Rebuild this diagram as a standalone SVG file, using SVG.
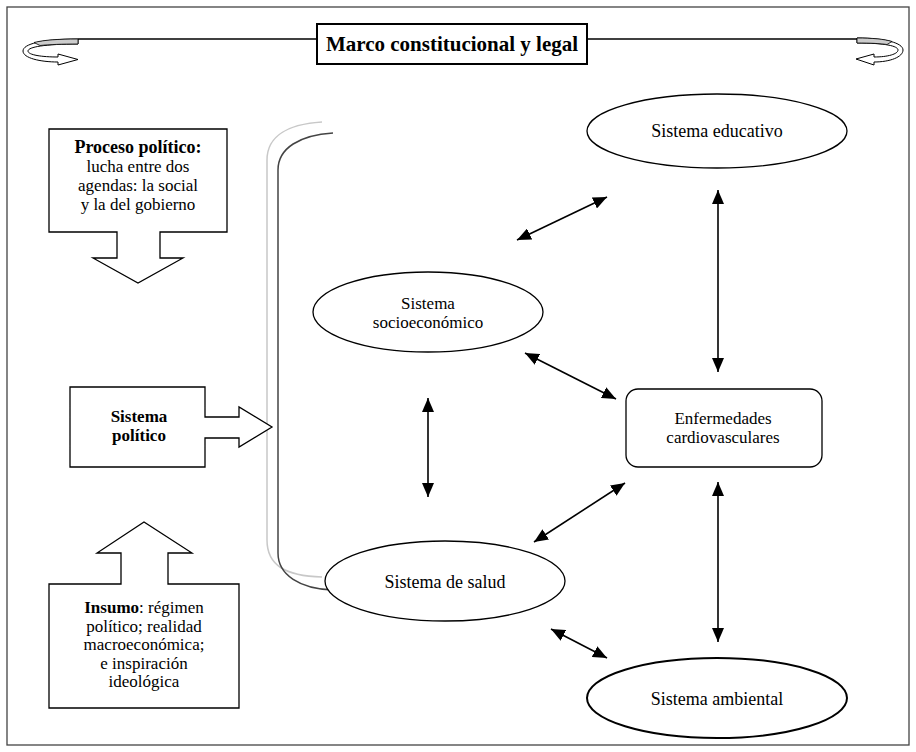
<svg xmlns="http://www.w3.org/2000/svg" width="916" height="752" viewBox="0 0 916 752">
<style>
text{font-family:"Liberation Serif","Times New Roman",serif;font-size:18px;fill:#000;text-anchor:middle}
.b{font-weight:bold}
.sm{font-size:17px}
.shape{fill:#fff;stroke:#000;stroke-width:1.3}
.conn{stroke:#000;stroke-width:1.6;fill:none;marker-start:url(#ah);marker-end:url(#ah)}
</style>
<defs>
<marker id="ah" viewBox="0 0 14 12" refX="14" refY="6" markerWidth="14" markerHeight="12" markerUnits="userSpaceOnUse" orient="auto-start-reverse">
<path d="M0,0 L14,6 L0,12 Z" fill="#000"/>
</marker>
</defs>
<rect x="7" y="7" width="902" height="738" fill="#fff" stroke="#444" stroke-width="1.3"/>

<g id="marco">
<line x1="78" y1="39" x2="317" y2="39" stroke="#000" stroke-width="1.3"/>
<line x1="587" y1="39" x2="857" y2="39" stroke="#000" stroke-width="1.3"/>
<path d="M78,39 C42,39 23,44 23,51 C23,58 40,62 58,62 L58,65 L78,59.5 L58,54 L58,57 C42,57 28,55 28,51 C28,47 45,44 78,44 Z" fill="#fff" stroke="#000" stroke-width="1"/>
<path d="M78,39 C58,39 44,40 34,42.5 L40,45.5 C50,44.5 62,44 78,44 Z" fill="#ccc" stroke="#000" stroke-width="0.8"/>
<path d="M857,38 C885,38 903,43 903,50 C903,57 890,62 874,62 L874,65 L856,59 L874,54 L874,57 C888,57 898,54 898,50 C898,46 885,43 857,43 Z" fill="#fff" stroke="#000" stroke-width="1"/>
<path d="M857,38 C872,38 884,39 892,41.5 L887,44.5 C880,43.5 870,43 857,43 Z" fill="#ccc" stroke="#000" stroke-width="0.8"/>
<rect x="317" y="24" width="270" height="40" fill="#fff" stroke="#000" stroke-width="2"/>
<text x="452" y="51" class="b" style="font-size:21px">Marco constitucional y legal</text>
</g>

<g id="brackets" fill="none">
<path d="M322,122 C290,124 267,135 267,160 L267,540 C267,565 285,576 322,577" stroke="#c8c8c8" stroke-width="1.5"/>
<path d="M333,133 C300,135 278,148 278,170 L278,553 C278,575 300,589 333,590" stroke="#444" stroke-width="1.5"/>
</g>

<g id="proceso">
<path class="shape" d="M49,129 L227,129 L227,232 L160,232 L160,258 L183,258 L138,283 L93,258 L117,258 L117,232 L49,232 Z"/>
<text x="138" y="153" class="b">Proceso político:</text>
<text x="138" y="172" class="sm">lucha entre dos</text>
<text x="138" y="191" class="sm">agendas: la social</text>
<text x="138" y="210" class="sm">y la del gobierno</text>
</g>

<g id="sistema-politico">
<path class="shape" d="M70,387 L205,387 L205,417 L239,417 L239,407 L272,427 L239,447 L239,438 L205,438 L205,467 L70,467 Z"/>
<text x="139" y="422" class="b sm">Sistema</text>
<text x="139" y="441" class="b sm">político</text>
</g>

<g id="insumo">
<path class="shape" d="M49,584 L121,584 L121,553 L97,553 L144,522 L192,553 L168,553 L168,584 L239,584 L239,708 L49,708 Z"/>
<text x="144" y="613" class="sm"><tspan class="b">Insumo</tspan>: régimen</text>
<text x="144" y="631.5" class="sm">político; realidad</text>
<text x="144" y="650" class="sm">macroeconómica;</text>
<text x="144" y="668.5" class="sm">e inspiración</text>
<text x="144" y="687" class="sm">ideológica</text>
</g>

<g id="educativo">
<ellipse class="shape" cx="717" cy="131" rx="130" ry="37"/>
<text x="717" y="137">Sistema educativo</text>
</g>

<g id="socioeconomico">
<ellipse class="shape" cx="428" cy="312" rx="115" ry="40"/>
<text x="428" y="309" class="sm">Sistema</text>
<text x="428" y="327.5" class="sm">socioeconómico</text>
</g>

<g id="enfermedades">
<rect class="shape" x="626" y="389" width="196" height="78" rx="12"/>
<text x="723" y="424" class="sm">Enfermedades</text>
<text x="723" y="442.5" class="sm">cardiovasculares</text>
</g>

<g id="salud">
<ellipse class="shape" cx="445" cy="581" rx="120" ry="40"/>
<text x="445" y="588">Sistema de salud</text>
</g>

<g id="ambiental">
<ellipse class="shape" cx="717" cy="698" rx="130" ry="40" style="stroke-width:2"/>
<text x="717" y="705">Sistema ambiental</text>
</g>

<g id="connectors">
<line class="conn" x1="517" y1="240" x2="607" y2="197"/>
<line class="conn" x1="718" y1="190" x2="718" y2="372"/>
<line class="conn" x1="525" y1="353" x2="616" y2="399"/>
<line class="conn" x1="428" y1="398" x2="428" y2="497"/>
<line class="conn" x1="534" y1="542" x2="625" y2="483"/>
<line class="conn" x1="718" y1="482" x2="718" y2="642"/>
<line class="conn" x1="551" y1="629" x2="607" y2="658"/>
</g>
</svg>
